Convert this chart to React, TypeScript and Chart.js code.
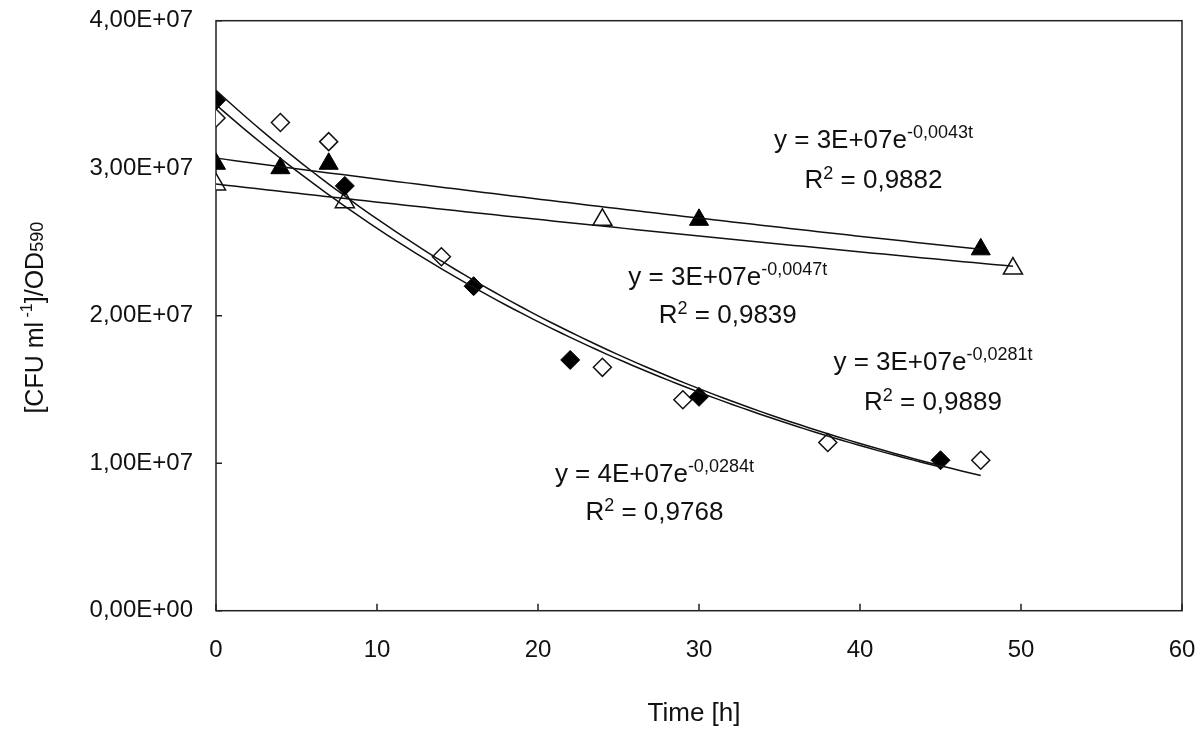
import React, { useEffect, useRef } from "react";
import { Chart, registerables } from "chart.js";

Chart.register(...registerables);

// ---- data ----
const filledDiamondT = [0, 8, 16, 22, 30, 45];
const filledDiamondV = [3.46e7, 2.88e7, 2.2e7, 1.7e7, 1.45e7, 1.02e7];

const openDiamondT = [0, 4, 7, 14, 24, 29, 38, 47.5];
const openDiamondV = [3.34e7, 3.31e7, 3.18e7, 2.4e7, 1.65e7, 1.43e7, 1.14e7, 1.02e7];

const filledTriangleT = [0, 4, 7, 30, 47.5];
const filledTriangleV = [3.03e7, 3.0e7, 3.03e7, 2.65e7, 2.45e7];

const openTriangleT = [0, 8, 24, 49.5];
const openTriangleV = [2.89e7, 2.77e7, 2.65e7, 2.32e7];

const xTickValues = [0, 10, 20, 30, 40, 50, 60];
const yTickValues = [0, 1e7, 2e7, 3e7, 4e7];

const xTitle = "Time [h]";
const yTitleParts = [
  { text: "[CFU ml", kind: "n" },
  { text: " -1", kind: "sup" },
  { text: "]/OD", kind: "n" },
  { text: "590", kind: "small" },
];

// equation labels: text, anchored at (t centre, value baseline) in data units
const eqTexts = [
  ["y = 3E+07e", "-0,0043t", "0,9882"],
  ["y = 3E+07e", "-0,0047t", "0,9839"],
  ["y = 3E+07e", "-0,0281t", "0,9889"],
  ["y = 4E+07e", "-0,0284t", "0,9768"],
];
const eqAnchorT = [40.84, 31.79, 44.53, 27.23];
const eqBase1V = [3.135e7, 2.208e7, 1.632e7, 0.8746e7];
const eqBase2V = [2.864e7, 1.948e7, 1.361e7, 0.6149e7];

// ---- helpers ----
function expFit(xs: number[], ys: number[]) {
  const n = xs.length;
  const ls = ys.map((y) => Math.log(y));
  const mx = xs.reduce((a, b) => a + b, 0) / n;
  const my = ls.reduce((a, b) => a + b, 0) / n;
  let sxx = 0;
  let sxy = 0;
  for (let i = 0; i < n; i++) {
    sxx += (xs[i] - mx) * (xs[i] - mx);
    sxy += (xs[i] - mx) * (ls[i] - my);
  }
  const b = sxy / sxx;
  const a = Math.exp(my - b * mx);
  return { a, b };
}

function trendPoints(xs: number[], ys: number[]) {
  const { a, b } = expFit(xs, ys);
  const t0 = Math.min(...xs);
  const t1 = Math.max(...xs);
  const pts: { x: number; y: number }[] = [];
  const N = 80;
  for (let i = 0; i <= N; i++) {
    const t = t0 + ((t1 - t0) * i) / N;
    pts.push({ x: t, y: a * Math.exp(b * t) });
  }
  return pts;
}

function toPts(xs: number[], ys: number[]) {
  return xs.map((x, i) => ({ x, y: ys[i] }));
}

function fmtSci(v: number) {
  if (v === 0) return "0,00E+00";
  const exp = Math.floor(Math.log10(Math.abs(v)));
  const mant = v / Math.pow(10, exp);
  const e = (exp < 0 ? "-" : "+") + String(Math.abs(exp)).padStart(2, "0");
  return mant.toFixed(2).replace(".", ",") + "E" + e;
}

const FONT = '"Liberation Sans", Arial, Helvetica, sans-serif';
const TEXT = "#111111";

type Seg = { text: string; size: number; dy: number };

function drawSegs(ctx: CanvasRenderingContext2D, segs: Seg[], cx: number, baseY: number) {
  let w = 0;
  for (const s of segs) {
    ctx.font = `${s.size}px ${FONT}`;
    w += ctx.measureText(s.text).width;
  }
  let x = cx - w / 2;
  ctx.textAlign = "left";
  ctx.textBaseline = "alphabetic";
  for (const s of segs) {
    ctx.font = `${s.size}px ${FONT}`;
    ctx.fillText(s.text, x, baseY + s.dy);
    x += ctx.measureText(s.text).width;
  }
}

const decorPlugin = {
  id: "decor",
  beforeDatasetsDraw(chart: any) {
    const { ctx, chartArea } = chart;
    const xs = chart.scales.x;
    const ys = chart.scales.y;
    ctx.save();
    ctx.strokeStyle = "#222";
    ctx.lineWidth = 1.5;
    ctx.strokeRect(chartArea.left, chartArea.top, chartArea.right - chartArea.left, chartArea.bottom - chartArea.top);
    // inward tick marks
    ctx.beginPath();
    for (const v of xTickValues) {
      const px = xs.getPixelForValue(v);
      ctx.moveTo(px, chartArea.bottom);
      ctx.lineTo(px, chartArea.bottom - 7);
    }
    for (const v of yTickValues) {
      const py = ys.getPixelForValue(v);
      ctx.moveTo(chartArea.left, py);
      ctx.lineTo(chartArea.left + 6, py);
    }
    ctx.stroke();
    ctx.restore();
  },
  afterDraw(chart: any) {
    const { ctx, chartArea } = chart;
    const xs = chart.scales.x;
    const ys = chart.scales.y;
    ctx.save();
    ctx.fillStyle = TEXT;
    // equations
    eqTexts.forEach((e, i) => {
      const cx = xs.getPixelForValue(eqAnchorT[i]);
      const b1 = ys.getPixelForValue(eqBase1V[i]);
      const b2 = ys.getPixelForValue(eqBase2V[i]);
      drawSegs(ctx, [
        { text: e[0], size: 26, dy: 0 },
        { text: e[1], size: 18, dy: -10 },
      ], cx, b1);
      drawSegs(ctx, [
        { text: "R", size: 26, dy: 0 },
        { text: "2", size: 18, dy: -9 },
        { text: " = " + e[2], size: 26, dy: 0 },
      ], cx, b2);
    });
    // x title
    ctx.fillStyle = TEXT;
    drawSegs(ctx, [{ text: xTitle, size: 26, dy: 0 }], (chartArea.left + chartArea.right) / 2 - 5, 721);
    // y title (rotated)
    ctx.translate(43, (chartArea.top + chartArea.bottom) / 2 + 2);
    ctx.rotate(-Math.PI / 2);
    const segs: Seg[] = yTitleParts.map((p) =>
      p.kind === "sup"
        ? { text: p.text, size: 16, dy: -11 }
        : p.kind === "small"
        ? { text: p.text, size: 18, dy: 0 }
        : { text: p.text, size: 25, dy: 0 }
    );
    drawSegs(ctx, segs, 0, 0);
    ctx.restore();
  },
};

function zeroPad(s: any) {
  s.paddingTop = 0;
  s.paddingBottom = 0;
  s.paddingLeft = 0;
  s.paddingRight = 0;
}

export default function App() {
  const ref = useRef<HTMLCanvasElement | null>(null);

  useEffect(() => {
    if (!ref.current) return;
    const lineCommon = {
      type: "line" as const,
      showLine: true,
      borderColor: "#111",
      borderWidth: 1.5,
      pointRadius: 0,
      fill: false,
      tension: 0,
      order: 0,
    };
    const chart = new Chart(ref.current, {
      type: "scatter",
      data: {
        datasets: [
          { ...lineCommon, label: "fit filled diamond", data: trendPoints(filledDiamondT, filledDiamondV) },
          { ...lineCommon, label: "fit open diamond", data: trendPoints(openDiamondT, openDiamondV) },
          { ...lineCommon, label: "fit filled triangle", data: trendPoints(filledTriangleT, filledTriangleV) },
          { ...lineCommon, label: "fit open triangle", data: trendPoints(openTriangleT, openTriangleV) },
          {
            label: "filled diamond",
            data: toPts(filledDiamondT, filledDiamondV),
            pointStyle: "rectRot",
            pointRadius: 9.5,
            backgroundColor: "#000",
            borderColor: "#000",
            borderWidth: 1,
            order: 1,
          },
          {
            label: "open diamond",
            data: toPts(openDiamondT, openDiamondV),
            pointStyle: "rectRot",
            pointRadius: 9,
            backgroundColor: "#fff",
            borderColor: "#111",
            borderWidth: 1.5,
            order: 1,
          },
          {
            label: "filled triangle",
            data: toPts(filledTriangleT, filledTriangleV),
            pointStyle: "triangle",
            pointRadius: 11,
            backgroundColor: "#000",
            borderColor: "#000",
            borderWidth: 1,
            order: 1,
          },
          {
            label: "open triangle",
            data: toPts(openTriangleT, openTriangleV),
            pointStyle: "triangle",
            pointRadius: 11,
            backgroundColor: "#fff",
            borderColor: "#111",
            borderWidth: 1.5,
            order: 1,
          },
        ] as any,
      },
      options: {
        animation: false,
        responsive: false,
        layout: { padding: { top: 20.7, right: 18, left: 0, bottom: 0 } },
        plugins: { legend: { display: false }, tooltip: { enabled: false } },
        scales: {
          x: {
            type: "linear",
            min: 0,
            max: 60,
            afterFit: (s: any) => {
              s.height = 731 - 610.7;
              zeroPad(s);
            },
            afterBuildTicks: (s: any) => {
              s.ticks = xTickValues.map((v) => ({ value: v }));
            },
            grid: { display: false, drawTicks: false },
            border: { display: false },
            ticks: {
              padding: 25,
              color: TEXT,
              font: { family: FONT, size: 24 },
              callback: (v: any) => String(v),
            },
          },
          y: {
            type: "linear",
            min: 0,
            max: 4e7,
            afterFit: (s: any) => {
              s.width = 216;
              zeroPad(s);
            },
            afterBuildTicks: (s: any) => {
              s.ticks = yTickValues.map((v) => ({ value: v }));
            },
            grid: { display: false, drawTicks: false },
            border: { display: false },
            ticks: {
              padding: 23,
              color: TEXT,
              font: { family: FONT, size: 24 },
              callback: (v: any) => fmtSci(Number(v)),
            },
          },
        },
      },
      plugins: [decorPlugin],
    } as any);
    return () => chart.destroy();
  }, []);

  return (
    <div style={{ position: "fixed", left: 0, top: 0, width: 1200, height: 731, background: "#fff" }}>
      <canvas ref={ref} width={1200} height={731} style={{ display: "block" }} />
    </div>
  );
}
